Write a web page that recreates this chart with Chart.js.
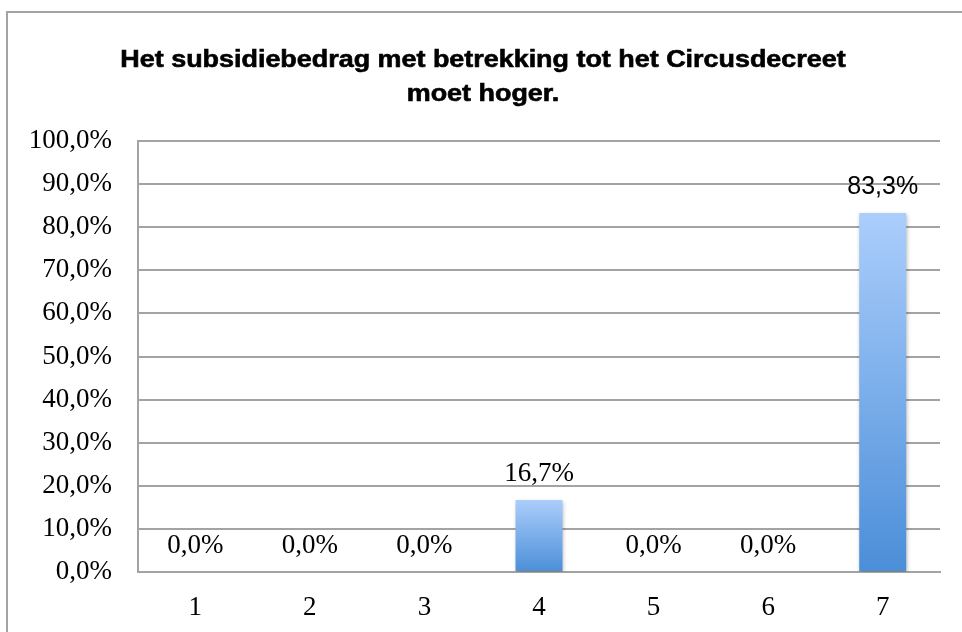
<!DOCTYPE html>
<html>
<head>
<meta charset="utf-8">
<script src="https://cdn.jsdelivr.net/npm/chart.js@4/dist/chart.umd.min.js"></script>
<style>
    html, body {
        margin: 0;
        padding: 0;
        background: #fff;
        overflow: hidden;
    }
    .frame {
        position: absolute;
        left: 6px;
        top: 11px;
        width: 2000px;
        height: 2000px;
        border-left: 2px solid #a3a3a3;
        border-top: 2px solid #a3a3a3;
    }
    #chart {
        position: absolute;
        left: 0;
        top: 0;
    }
</style>
</head>
<body>
<div class="frame"></div>
<canvas id="chart" width="962" height="632"></canvas>
<script>
// Answers on the 1-7 scale
const categories = ['1', '2', '3', '4', '5', '6', '7'];
const percentages = [0, 0, 0, 16.7, 0, 0, 83.3];
const titleLines = ['Het subsidiebedrag met betrekking tot het Circusdecreet', 'moet hoger.'];

const serif = '"Liberation Serif", "Times New Roman", serif';
const sans = '"Liberation Sans", Arial, sans-serif';
const gridColor = '#a3a3a3';

// Format like 83,3%
function formatPercent(value) {
    return value.toFixed(1).replace('.', ',') + '%';
}

// Vertical gradient from the top of each bar down to the axis
function barGradient(context) {
    const chart = context.chart;
    if (!chart.chartArea) return '#6fa6e6';
    const yScale = chart.scales.y;
    const top = yScale.getPixelForValue(context.raw);
    const bottom = yScale.getPixelForValue(0);
    if (bottom - top < 1) return '#6fa6e6';
    const gradient = chart.ctx.createLinearGradient(0, top, 0, bottom);
    gradient.addColorStop(0, '#abcefc');
    gradient.addColorStop(1, '#4b8ed8');
    return gradient;
}

// Title drawn by hand so it can be stretched a little wider
const titlePlugin = {
    id: 'wideTitle',
    afterDraw(chart) {
        const ctx = chart.ctx;
        ctx.save();
        ctx.fillStyle = '#000';
        ctx.strokeStyle = '#000';
        ctx.lineWidth = 0.6;
        ctx.font = 'bold 23px ' + sans;
        ctx.textAlign = 'center';
        ctx.textBaseline = 'alphabetic';
        titleLines.forEach((line, i) => {
            ctx.save();
            ctx.translate(483, 67 + i * 34);
            ctx.scale(1.17, 1);
            ctx.fillText(line, 0, 0);
            ctx.strokeText(line, 0, 0);
            ctx.restore();
        });
        ctx.restore();
    }
};

// Soft shadow under the bars, then the value above each bar
const barLabelPlugin = {
    id: 'barLabels',
    beforeDatasetsDraw(chart) {
        const ctx = chart.ctx;
        ctx.save();
        ctx.shadowColor = 'rgba(0, 0, 0, 0.28)';
        ctx.shadowBlur = 4;
        ctx.shadowOffsetX = 1;
        ctx.shadowOffsetY = 2;
    },
    afterDatasetsDraw(chart) {
        const ctx = chart.ctx;
        ctx.restore();
        ctx.save();
        ctx.fillStyle = '#000';
        ctx.textAlign = 'center';
        ctx.textBaseline = 'alphabetic';
        const meta = chart.getDatasetMeta(0);
        meta.data.forEach((bar, i) => {
            const value = chart.data.datasets[0].data[i];
            ctx.font = i === 6 ? '25px ' + sans : '27px ' + serif;
            ctx.fillText(formatPercent(value), bar.x, bar.y - 19);
        });
        ctx.restore();
    }
};

const ctx = document.getElementById('chart').getContext('2d');
new Chart(ctx, {
    type: 'bar',
    data: {
        labels: categories,
        datasets: [{
            data: percentages,
            backgroundColor: barGradient,
            borderWidth: 0,
            barPercentage: 0.41,
            categoryPercentage: 1,
        }],
    },
    options: {
        responsive: false,
        animation: false,
        layout: {
            padding: { left: 0, right: 22, top: 141, bottom: 0 },
        },
        plugins: {
            legend: { display: false },
            title: { display: false },
            tooltip: { enabled: false },
        },
        scales: {
            x: {
                grid: { display: false, drawTicks: false },
                border: { display: true, color: gridColor, width: 2 },
                ticks: {
                    color: '#000',
                    font: { family: serif, size: 27 },
                    padding: 20,
                },
                afterFit(scale) {
                    scale.height = 60;
                },
            },
            y: {
                min: 0,
                max: 100,
                grid: { color: gridColor, lineWidth: 2, drawTicks: false },
                border: { display: true, color: gridColor, width: 2 },
                ticks: {
                    stepSize: 10,
                    color: '#000',
                    font: { family: serif, size: 27 },
                    padding: 26,
                    callback: (value) => formatPercent(value),
                },
                afterFit(scale) {
                    scale.width = 138;
                },
            },
        },
    },
    plugins: [titlePlugin, barLabelPlugin],
});
</script>
</body>
</html>
